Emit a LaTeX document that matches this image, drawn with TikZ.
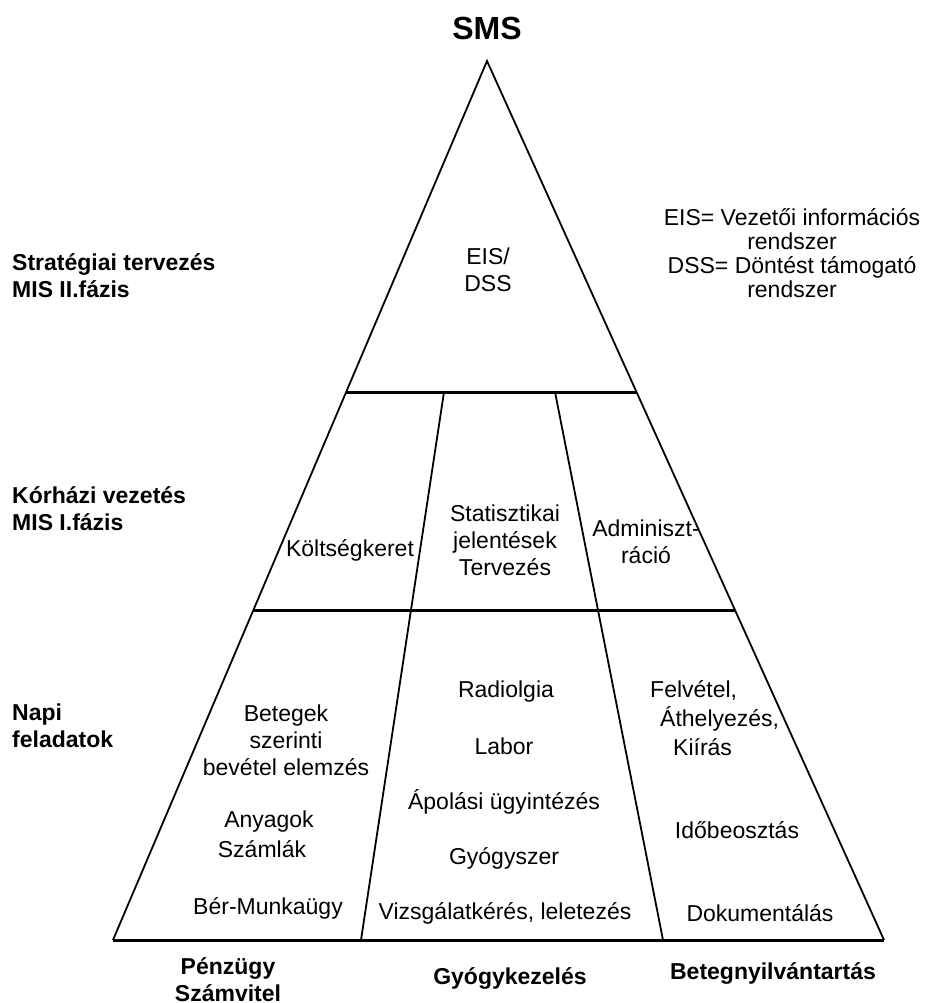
\documentclass[tikz,border=0pt]{standalone}
\usepackage{fontspec}
\setmainfont{Liberation Sans}
\usetikzlibrary{calc}
\begin{document}
\begin{tikzpicture}[x=1pt,y=-1pt,
  txt/.style={font=\fontsize{23}{27}\selectfont, align=center, inner sep=0pt},
  lbl/.style={font=\fontsize{23}{27}\selectfont\bfseries, align=left, anchor=west, inner sep=0pt},
  head/.style={font=\fontsize{23}{27}\selectfont\bfseries, align=center, inner sep=0pt},
  edge/.style={line width=1.8pt, line join=miter},
  band/.style={line width=3pt}]
\useasboundingbox (0,0) rectangle (924,1003);

% outer triangle
\coordinate (apex) at (487,61);
\coordinate (bl) at (113,940);
\coordinate (br) at (884,940);
% level lines
\coordinate (t1l) at ($(apex)!0.3766!(bl)$);
\coordinate (t1r) at ($(apex)!0.3766!(br)$);
\coordinate (t2l) at ($(apex)!0.6246!(bl)$);
\coordinate (t2r) at ($(apex)!0.6246!(br)$);
% column dividers
\coordinate (d1t) at (444,392);
\coordinate (d1b) at (361,940);
\coordinate (d2t) at (555,392);
\coordinate (d2b) at (663,940);

\draw[edge] (bl) -- (apex) -- (br);
\draw[band] (bl) -- (br);
\draw[band] (t1l) -- (t1r);
\draw[band] (t2l) -- (t2r);
\draw[edge] (d1t) -- (d1b);
\draw[edge] (d2t) -- (d2b);

% titles
\node[font=\fontsize{32}{36}\selectfont\bfseries, inner sep=0pt] (sms) at (487,28) {SMS};
\node[txt] (eisdss) at (488,270) {EIS/\\DSS};
\node[txt, font=\fontsize{23}{24}\selectfont] (legend) at (792,253)
  {EIS= Vezetői információs\\rendszer\\DSS= Döntést támogató\\rendszer};

% level labels
\node[lbl] (strat) at (12,276) {Stratégiai tervezés\\MIS II.fázis};
\node[lbl] (korh) at (12,509) {Kórházi vezetés\\MIS I.fázis};
\node[lbl] (napi) at (12,726) {Napi\\feladatok};

% middle level
\node[txt] (kolts) at (350,550) {Költségkeret};
\node[txt] (stat) at (505,540) {Statisztikai\\jelentések\\Tervezés};
\node[txt] (admin) at (646,542) {Adminiszt-\\ráció};

% bottom level, left column
\node[txt] (beteg) at (286,740) {Betegek\\szerinti\\bevétel elemzés};
\node[txt] (anyag) at (269,822) {Anyagok};
\node[txt] (szaml) at (262,849) {Számlák};
\node[txt] (ber) at (268,908) {Bér-Munkaügy};

% bottom level, middle column
\node[txt] (radio) at (506,692) {Radiolgia};
\node[txt] (labor) at (504,746) {Labor};
\node[txt] (apol) at (504,802) {Ápolási ügyintézés};
\node[txt] (gyogy) at (504,858) {Gyógyszer};
\node[txt] (vizsg) at (505,913) {Vizsgálatkérés, leletezés};

% bottom level, right column
\node[txt, anchor=west] (felv) at (650,690) {Felvétel,};
\node[txt, anchor=west] (athely) at (660,719) {Áthelyezés,};
\node[txt, anchor=west] (kiir) at (673,747) {Kiírás};
\node[txt] (idob) at (737,830) {Időbeosztás};
\node[txt] (dokum) at (760,913) {Dokumentálás};

% column labels
\node[head] (penz) at (228,980) {Pénzügy\\Számvitel};
\node[head] (gyk) at (510,978) {Gyógykezelés};
\node[head] (bny) at (773,973) {Betegnyilvántartás};
\end{tikzpicture}
\end{document}
